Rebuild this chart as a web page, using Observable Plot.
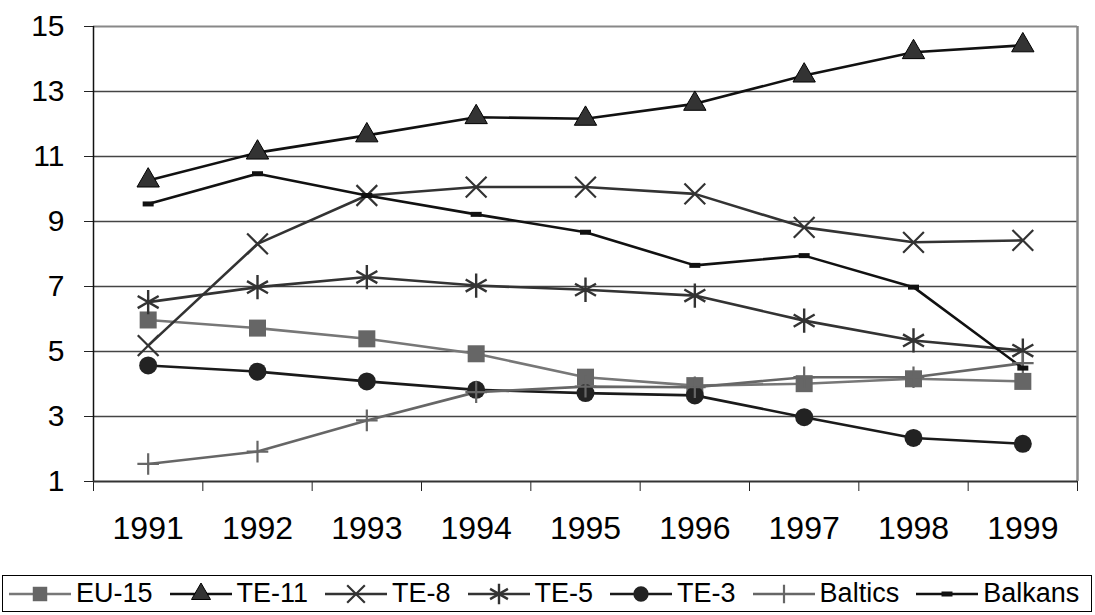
<!DOCTYPE html>
<html><head><meta charset="utf-8">
<script src="https://cdn.jsdelivr.net/npm/d3@7"></script>
<script src="https://cdn.jsdelivr.net/npm/@observablehq/plot@0.6"></script>
<style>
body{margin:0;background:#fff;font-family:"Liberation Sans",Arial,sans-serif;}
#chart svg{display:block}
#legend{position:absolute;left:2px;top:575px;width:1090px;height:37px;border:1.5px solid #000;display:flex;align-items:center;padding-left:6px;box-sizing:border-box;font-size:27px;color:#000;white-space:nowrap;font-weight:normal;}
.item{display:flex;align-items:center;margin-right:17px}
.item svg{margin-right:5px;display:block}
</style></head><body>
<div id="chart"></div><div id="legend"></div>
<script>
const years = [1991, 1992, 1993, 1994, 1995, 1996, 1997, 1998, 1999];
const seriesNames = ["EU-15", "TE-11", "TE-8", "TE-5", "TE-3", "Baltics", "Balkans"];
const eu15 = [5.97, 5.72, 5.39, 4.93, 4.21, 3.95, 4.01, 4.16, 4.08];
const te11 = [10.26, 11.12, 11.65, 12.21, 12.16, 12.62, 13.49, 14.21, 14.42];
const te8 = [5.18, 8.31, 9.80, 10.06, 10.06, 9.85, 8.82, 8.36, 8.42];
const te5 = [6.52, 6.98, 7.29, 7.03, 6.90, 6.72, 5.95, 5.34, 5.03];
const te3 = [4.57, 4.38, 4.08, 3.82, 3.72, 3.65, 2.98, 2.34, 2.16];
const baltics = [1.54, 1.92, 2.88, 3.75, 3.92, 3.90, 4.21, 4.21, 4.64];
const balkans = [9.54, 10.47, 9.80, 9.22, 8.67, 7.65, 7.95, 6.98, 4.49];
const yTicks = [1, 3, 5, 7, 9, 11, 13, 15];
const yGrid = [3, 5, 7, 9, 11, 13];

const valuesList = [eu15, te11, te8, te5, te3, baltics, balkans];
const bounds = years.map(y => y - 0.5).concat([years[years.length - 1] + 0.5]);

const dashSym = {draw(ctx, size) { ctx.rect(-5.5, -2.5, 11, 5); }};
const styles = [
  {line: "#777", symbol: "square", r: 9.6, fill: "#666", stroke: "none", sw: 0},
  {line: "#111", symbol: "triangle", r: 8.3, fill: "#333", stroke: "#000", sw: 1},
  {line: "#333", symbol: "times", r: 9.5, fill: "none", stroke: "#333", sw: 2.2},
  {line: "#333", symbol: "asterisk", r: 11.5, fill: "none", stroke: "#333", sw: 2.4},
  {line: "#1a1a1a", symbol: "circle", r: 9, fill: "#222", stroke: "none", sw: 0},
  {line: "#666", symbol: "plus", r: 7, fill: "none", stroke: "#666", sw: 2.2},
  {line: "#111", symbol: dashSym, r: 5, fill: "#111", stroke: "none", sw: 0}
];

const seriesData = seriesNames.map((name, k) => years.map((yr, i) => ({series: name, year: yr, value: valuesList[k][i]})));

const marks = [
  Plot.gridY(yGrid, {stroke: "#444", strokeOpacity: 1, strokeWidth: 1.3}),
  Plot.ruleY([yTicks[yTicks.length - 1]], {stroke: "#888", strokeWidth: 2}),
  Plot.ruleX([bounds[bounds.length - 1]], {stroke: "#888", strokeWidth: 2.5}),
  Plot.axisY({ticks: yTicks, tickSize: 9, tickPadding: 20, fontSize: 30, label: null, tickFormat: d => String(d), stroke: "#222"}),
  Plot.axisX({ticks: bounds, tickSize: 10, tickFormat: () => "", label: null, stroke: "#222"}),
  Plot.axisX({ticks: years, tickSize: 0, tickPadding: 35, fontSize: 32, label: null, tickFormat: d => String(d)}),
  Plot.ruleX([bounds[0]], {stroke: "#111", strokeWidth: 1.5}),
  Plot.ruleY([yTicks[0]], {stroke: "#333", strokeWidth: 2})
];
seriesData.forEach((rows, k) => {
  const s = styles[k];
  marks.push(Plot.line(rows, {x: "year", y: "value", stroke: s.line, strokeWidth: 2.6}));
});
seriesData.forEach((rows, k) => {
  const s = styles[k];
  marks.push(Plot.dot(rows, {x: "year", y: "value", symbol: s.symbol, r: s.r, fill: s.fill, stroke: s.stroke, strokeWidth: s.sw}));
});

const chart = Plot.plot({
  width: 1095,
  height: 555,
  marginLeft: 93,
  marginRight: 18,
  marginTop: 26,
  marginBottom: 74,
  style: {fontFamily: "'Liberation Sans', Arial, sans-serif", fontSize: "30px", color: "#000", background: "#fff", fontWeight: "normal"},
  x: {type: "linear", domain: [bounds[0], bounds[bounds.length - 1]], label: null},
  y: {type: "linear", domain: [yTicks[0], yTicks[yTicks.length - 1]], label: null},
  marks
});
document.getElementById("chart").appendChild(chart);

// legend
const legend = document.getElementById("legend");
const symMap = {square: d3.symbolSquare, triangle: d3.symbolTriangle, times: d3.symbolTimes, asterisk: d3.symbolAsterisk, circle: d3.symbolCircle, plus: d3.symbolPlus};
seriesNames.forEach((name, k) => {
  const s = styles[k];
  const item = document.createElement("div");
  item.className = "item";
  const w = 62, h = 30;
  const svg = d3.create("svg").attr("width", w).attr("height", h);
  svg.append("line").attr("x1", 0).attr("x2", w).attr("y1", h / 2).attr("y2", h / 2).attr("stroke", s.line).attr("stroke-width", 2.4);
  const type = typeof s.symbol === "string" ? symMap[s.symbol] : s.symbol;
  const size = Math.PI * (s.r * 0.85) ** 2;
  svg.append("path").attr("d", d3.symbol(type, size)()).attr("transform", `translate(${w / 2},${h / 2})`)
    .attr("fill", s.fill).attr("stroke", s.stroke).attr("stroke-width", s.sw);
  item.appendChild(svg.node());
  const t = document.createElement("span");
  t.textContent = name;
  item.appendChild(t);
  legend.appendChild(item);
});
</script>
</body></html>
